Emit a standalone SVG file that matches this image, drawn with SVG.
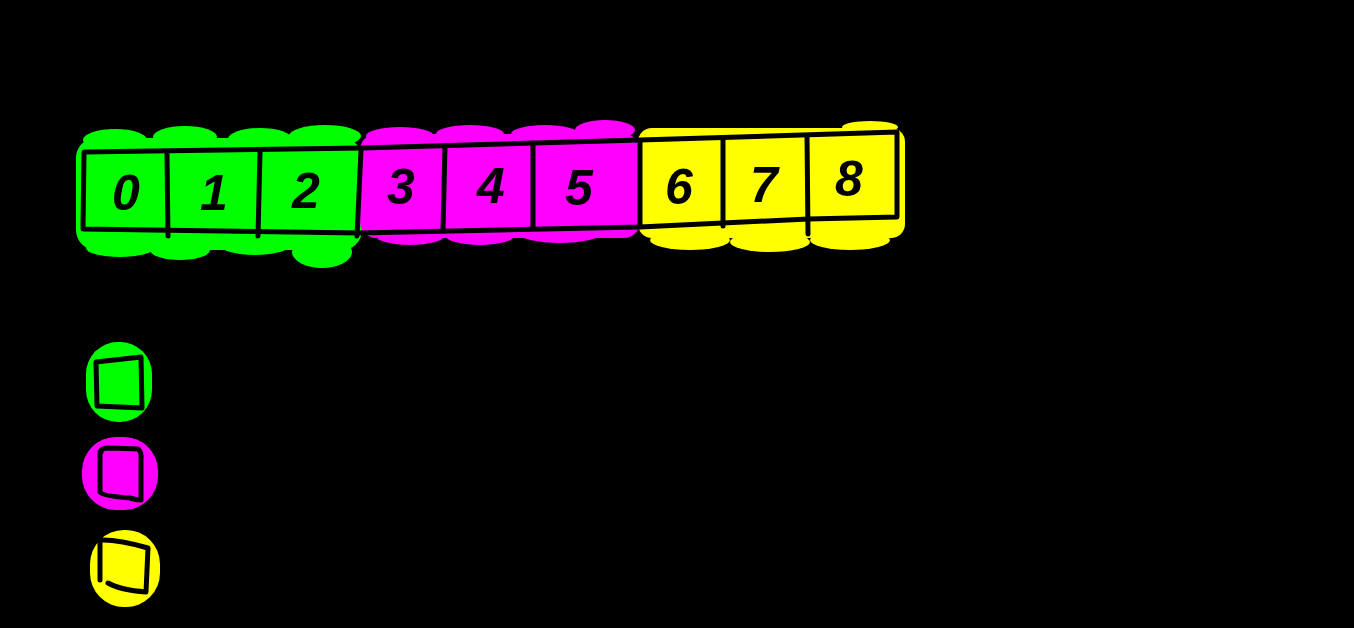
<svg xmlns="http://www.w3.org/2000/svg" width="1354" height="628" viewBox="0 0 1354 628">
<style>
.ink{fill:none;stroke:#000;stroke-width:5;stroke-linecap:round;stroke-linejoin:round}
.dig{font-family:"Liberation Sans","DejaVu Sans",sans-serif;font-size:50px;font-weight:bold;font-style:italic;fill:#000;text-anchor:middle}
.g{fill:#00ff00}.m{fill:#ff00ff}.y{fill:#ffff00}
</style>
<rect width="1354" height="628" fill="#000"/>
<g id="highlight-green" class="g">
<rect x="76" y="138" width="286" height="112" rx="20"/>
<ellipse cx="115" cy="140" rx="32" ry="11"/><ellipse cx="185" cy="137" rx="32" ry="11"/><ellipse cx="260" cy="139" rx="32" ry="11"/><ellipse cx="325" cy="136" rx="36" ry="11"/>
<ellipse cx="120" cy="248" rx="34" ry="9"/><ellipse cx="180" cy="250" rx="30" ry="10"/><ellipse cx="255" cy="246" rx="34" ry="9"/><ellipse cx="322" cy="252" rx="30" ry="16"/>
</g>
<g id="highlight-magenta" class="m">
<rect x="360" y="134" width="280" height="104" rx="16"/>
<ellipse cx="400" cy="136" rx="34" ry="9"/><ellipse cx="470" cy="134" rx="34" ry="9"/><ellipse cx="545" cy="134" rx="34" ry="9"/><ellipse cx="605" cy="130" rx="30" ry="10"/>
<ellipse cx="410" cy="236" rx="34" ry="9"/><ellipse cx="480" cy="236" rx="34" ry="9"/><ellipse cx="560" cy="234" rx="40" ry="9"/>
</g>
<g id="highlight-yellow" class="y">
<rect x="638" y="128" width="267" height="110" rx="14"/>
<ellipse cx="690" cy="240" rx="40" ry="10"/><ellipse cx="770" cy="242" rx="40" ry="10"/><ellipse cx="850" cy="240" rx="40" ry="10"/><ellipse cx="870" cy="127" rx="28" ry="6"/>
</g>
<g id="array">
<polygon class="ink" points="84,152 363,148 640,140 897,132 897,217 808,219 640,227 360,233 83,229"/>
</g>
<g id="cell-0"><text class="dig" x="126" y="210">0</text></g>
<g id="cell-1"><line class="ink" x1="167" y1="154" x2="168" y2="236"/><text class="dig" x="214" y="210">1</text></g>
<g id="cell-2"><line class="ink" x1="260" y1="152" x2="258" y2="236"/><text class="dig" x="306" y="208">2</text></g>
<g id="cell-3"><line class="ink" x1="361" y1="150" x2="357" y2="236"/><text class="dig" x="401" y="204">3</text></g>
<g id="cell-4"><line class="ink" x1="445" y1="146" x2="443" y2="230"/><text class="dig" x="491" y="203">4</text></g>
<g id="cell-5"><line class="ink" x1="533" y1="143" x2="533" y2="228"/><text class="dig" x="579" y="205">5</text></g>
<g id="cell-6"><line class="ink" x1="640" y1="141" x2="640" y2="226"/><text class="dig" x="679" y="204">6</text></g>
<g id="cell-7"><line class="ink" x1="723" y1="138" x2="723" y2="226"/><text class="dig" x="764" y="202">7</text></g>
<g id="cell-8"><line class="ink" x1="807" y1="136" x2="808" y2="234"/><text class="dig" x="849" y="196">8</text></g>
<g id="legend-green">
<rect class="g" x="86" y="342" width="66" height="80" rx="32"/>
<path class="ink" d="M96,362 L141,357 L142,408 L97,406 Z"/>
</g>
<g id="legend-magenta">
<rect class="m" x="82" y="437" width="76" height="73" rx="34"/>
<path class="ink" d="M101,452 Q100,448 110,448 L138,449 Q142,452 141,460 L141,500 M100,452 L100,492 Q102,496 130,498 L138,500"/>
</g>
<g id="legend-yellow">
<rect class="y" x="90" y="530" width="70" height="77" rx="34"/>
<path class="ink" d="M100,537 L100,580 M103,540 Q120,540 148,548 L146,592 M108,583 Q120,590 146,592"/>
</g>
</svg>
